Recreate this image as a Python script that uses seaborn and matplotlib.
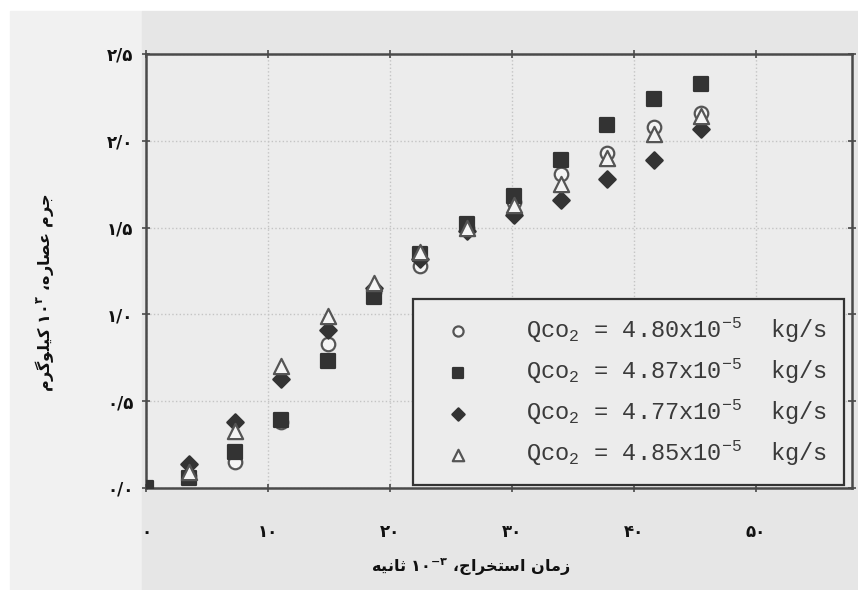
import matplotlib
matplotlib.use("Agg")
import matplotlib.pyplot as plt
from matplotlib.patches import Rectangle
import numpy as np
import pandas as pd
import seaborn as sns

# ---------------------------------------------------------------------------
# Data
# ---------------------------------------------------------------------------
time_k = [0.0, 3.5, 7.3, 11.1, 14.9, 18.7, 22.5, 26.3, 30.2, 34.0, 37.8, 41.7, 45.5]
mass_480 = [np.nan, 0.07, 0.15, 0.38, 0.83, 1.13, 1.28, 1.50, 1.65, 1.81, 1.93, 2.08, 2.16]
mass_487 = [0.0, 0.06, 0.21, 0.39, 0.73, 1.10, 1.35, 1.52, 1.68, 1.89, 2.09, 2.24, 2.33]
mass_477 = [np.nan, 0.14, 0.38, 0.63, 0.91, 1.15, 1.32, 1.48, 1.57, 1.66, 1.78, 1.89, 2.07]
mass_485 = [np.nan, 0.09, 0.33, 0.70, 0.99, 1.18, 1.36, 1.50, 1.63, 1.75, 1.90, 2.04, 2.14]

flow_labels = ["4.80", "4.87", "4.77", "4.85"]
x_ticks = [0, 10, 20, 30, 40, 50]
y_ticks = [0.0, 0.5, 1.0, 1.5, 2.0, 2.5]

# ---------------------------------------------------------------------------
# Minimal Persian shaping (matplotlib draws glyphs unjoined and left-to-right)
# ---------------------------------------------------------------------------
FORMS = {
    "ا": ("\uFE8D", "\uFE8E", None, None),
    "ت": ("\uFE95", "\uFE96", "\uFE97", "\uFE98"),
    "ث": ("\uFE99", "\uFE9A", "\uFE9B", "\uFE9C"),
    "ج": ("\uFE9D", "\uFE9E", "\uFE9F", "\uFEA0"),
    "خ": ("\uFEA5", "\uFEA6", "\uFEA7", "\uFEA8"),
    "ر": ("\uFEAD", "\uFEAE", None, None),
    "ز": ("\uFEAF", "\uFEB0", None, None),
    "س": ("\uFEB1", "\uFEB2", "\uFEB3", "\uFEB4"),
    "ص": ("\uFEB9", "\uFEBA", "\uFEBB", "\uFEBC"),
    "ع": ("\uFEC9", "\uFECA", "\uFECB", "\uFECC"),
    "ل": ("\uFEDD", "\uFEDE", "\uFEDF", "\uFEE0"),
    "م": ("\uFEE1", "\uFEE2", "\uFEE3", "\uFEE4"),
    "ن": ("\uFEE5", "\uFEE6", "\uFEE7", "\uFEE8"),
    "ه": ("\uFEE9", "\uFEEA", "\uFEEB", "\uFEEC"),
    "و": ("\uFEED", "\uFEEE", None, None),
    "ی": ("\uFBFC", "\uFBFD", "\uFBFE", "\uFBFF"),
    "ک": ("\uFB8E", "\uFB8F", "\uFB90", "\uFB91"),
    "گ": ("\uFB92", "\uFB93", "\uFB94", "\uFB95"),
}


def shape(word):
    out = []
    for i, ch in enumerate(word):
        if ch not in FORMS:
            out.append(ch)
            continue
        iso, fin, ini, med = FORMS[ch]
        prev = word[i - 1] if i > 0 else None
        nxt = word[i + 1] if i < len(word) - 1 else None
        joins_prev = prev in FORMS and FORMS[prev][2] is not None
        joins_next = nxt in FORMS and ini is not None
        if joins_prev and joins_next:
            out.append(med)
        elif joins_prev:
            out.append(fin)
        elif joins_next:
            out.append(ini)
        else:
            out.append(iso)
    return "".join(reversed(out))


FA = str.maketrans("0123456789", "۰۱۲۳۴۵۶۷۸۹")

x_label = " ".join([shape("ثانیه"), r"۱۰$^{\mathbf{-۳}}$", shape("استخراج،"), shape("زمان")])
y_label = " ".join([shape("کیلوگرم"), r"۱۰$^{\mathbf{۳}}$", shape("عصاره،"), shape("جرم")])

# ---------------------------------------------------------------------------
# Style
# ---------------------------------------------------------------------------
sns.set_theme(style="ticks")
plt.rcParams["font.family"] = ["DejaVu Sans"]
plt.rcParams["mathtext.fontset"] = "custom"
plt.rcParams["mathtext.rm"] = "Liberation Mono"
plt.rcParams["mathtext.it"] = "Liberation Mono"
plt.rcParams["mathtext.bf"] = "DejaVu Sans:bold"

INK = "#333333"
LINE = "#4a4a4a"

fig = plt.figure(figsize=(8.58, 5.90), dpi=100)
fig.patch.set_facecolor("white")
# scanned page backgrounds
fig.add_artist(Rectangle((10 / 858, 0), 132 / 858, 1 - 11 / 590,
                         transform=fig.transFigure, color="#f1f1f1", zorder=-10))
fig.add_artist(Rectangle((142 / 858, 0), 716 / 858, 1 - 11 / 590,
                         transform=fig.transFigure, color="#e6e6e6", zorder=-10))

ax = fig.add_axes([146 / 858, 1 - 488 / 590, 706 / 858, 434 / 590])
ax.set_facecolor("#ececec")

series = [
    (mass_480, "o", "#f4f4f4", "#555555", 95),
    (mass_487, "s", INK, INK, 110),
    (mass_477, "D", INK, INK, 70),
    (mass_485, "^", "#f4f4f4", "#555555", 120),
]
for (vals, marker, face, edge, size), flow in zip(series, flow_labels):
    df = pd.DataFrame({"t": time_k, "m": vals}).dropna()
    sns.scatterplot(data=df, x="t", y="m", ax=ax, marker=marker, s=size,
                    color=face, edgecolor=edge, linewidth=1.6, zorder=3,
                    label=f"Qco$_2$ = {flow}x10$^{{-5}}$  kg/s")

ax.set_xlim(0, 57.9)
ax.set_ylim(0, 2.5)
ax.set_xticks(x_ticks)
ax.set_yticks(y_ticks)
ax.set_xticklabels([str(v).translate(FA) for v in x_ticks], fontsize=12, fontweight="bold")
ax.set_yticklabels([f"{v:.1f}".replace(".", "/").translate(FA) for v in y_ticks],
                   fontsize=12, fontweight="bold")
ax.tick_params(axis="x", direction="inout", length=6, width=1.2, color=LINE, pad=22,
               top=True, labelcolor="#111111")
ax.tick_params(axis="y", direction="inout", length=6, width=1.2, color=LINE, pad=6,
               right=True, labelcolor="#111111")
ax.grid(True, linestyle=":", linewidth=1.0, color="#c4c4c4")
ax.set_axisbelow(True)
for sp in ax.spines.values():
    sp.set_color(LINE)
    sp.set_linewidth(1.8)

ax.set_xlabel(x_label, fontsize=11.5, fontweight="bold", color="#111111")
ax.xaxis.set_label_coords(0.46, -0.158)
ax.set_ylabel(y_label, fontsize=11.5, fontweight="bold", color="#111111")
ax.yaxis.set_label_coords(-0.128, 0.45)

leg = ax.legend(loc="lower right", bbox_to_anchor=(0.988, 0.008), borderaxespad=0,
                prop={"family": "Liberation Mono", "size": 17},
                frameon=True, fancybox=False, framealpha=1, facecolor="#ececec",
                edgecolor=INK, borderpad=0.7, handlelength=2.4, handletextpad=1.7,
                labelspacing=0.5, markerscale=0.75)
leg.get_frame().set_linewidth(1.6)
for t in leg.get_texts():
    t.set_color("#3a3a3a")

fig.savefig("out.png", dpi=100)
